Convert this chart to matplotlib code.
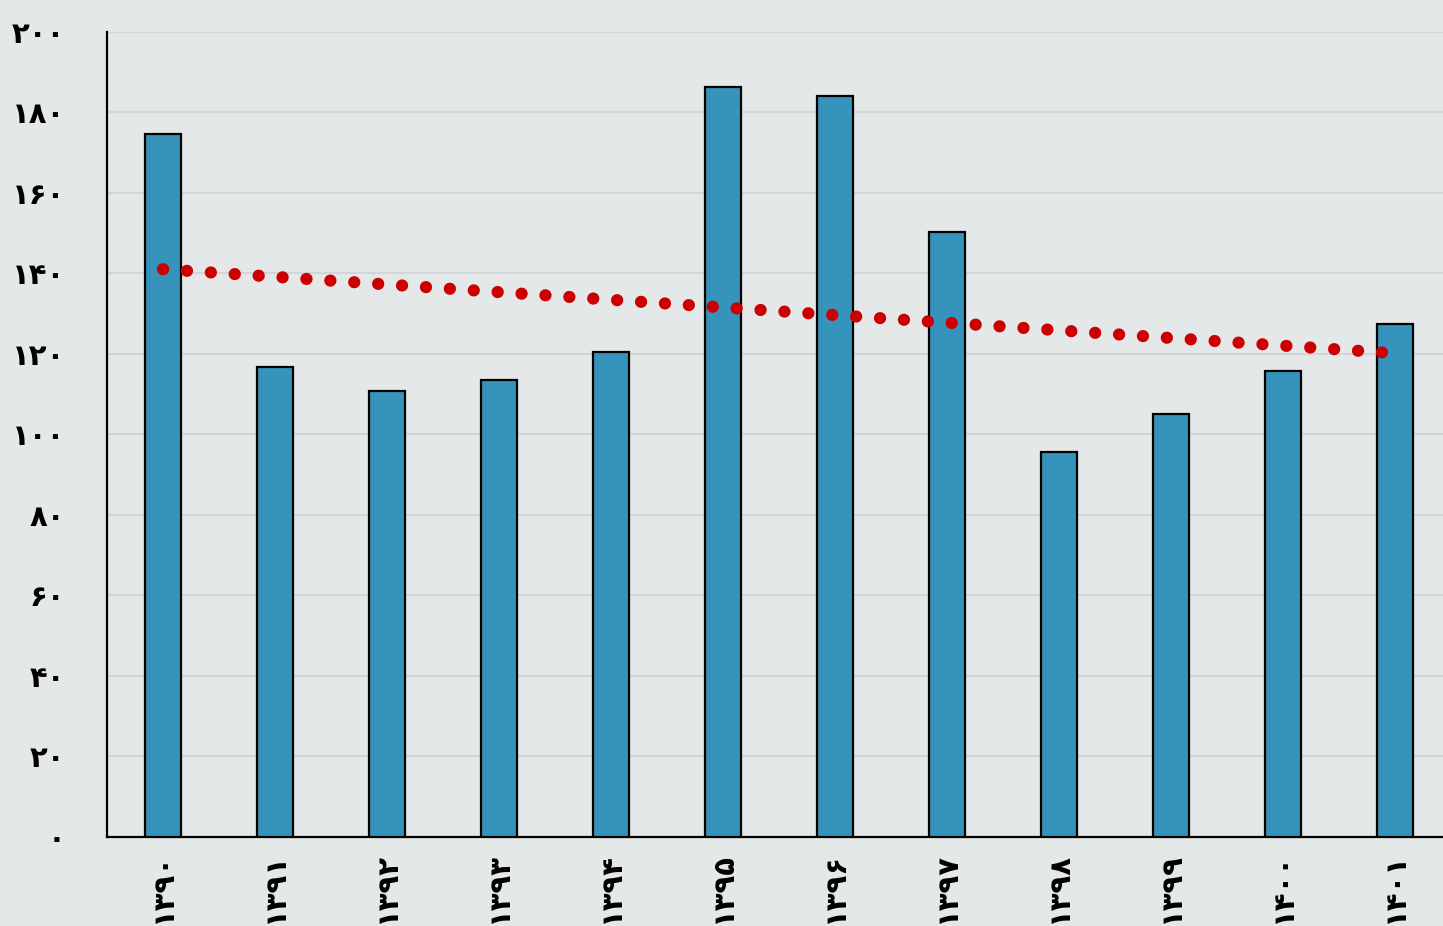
import matplotlib
matplotlib.use("Agg")
import matplotlib.pyplot as plt
import numpy as np

# years (Persian calendar) and values
years = ["۱۳۹۰", "۱۳۹۱", "۱۳۹۲", "۱۳۹۳", "۱۳۹۴", "۱۳۹۵",
         "۱۳۹۶", "۱۳۹۷", "۱۳۹۸", "۱۳۹۹", "۱۴۰۰", "۱۴۰۱"]
values = [174.6, 116.7, 110.7, 113.5, 120.4, 186.3,
          184.0, 150.2, 95.6, 105.0, 115.7, 127.4]
trend_start = 141.0
trend_end = 120.1

y_ticks = [0, 20, 40, 60, 80, 100, 120, 140, 160, 180, 200]
y_labels = ["۰", "۲۰", "۴۰", "۶۰", "۸۰", "۱۰۰", "۱۲۰", "۱۴۰", "۱۶۰", "۱۸۰", "۲۰۰"]

bg = "#e4e8e9"
bar_color = "#3593bc"
red = "#cc0000"

plt.rcParams['font.family'] = ['DejaVu Sans']

fig = plt.figure(figsize=(14.43, 9.26), dpi=100, facecolor=bg)
ax = fig.add_axes([107 / 1443, (926 - 836.7) / 926, (1451 - 107) / 1443, 805 / 926])
ax.set_facecolor(bg)

x = np.arange(len(years))
ax.bar(x, values, width=0.32, color=bar_color, edgecolor="black", linewidth=1.6, zorder=3)

# dotted trend line
ax.plot([x[0], x[-1]], [trend_start, trend_end], color=red, linewidth=8.8,
        linestyle=(0, (0.01, 1.95)), dash_capstyle="round", zorder=4)

ax.set_xlim(-0.5, len(years) - 0.5)
ax.set_ylim(0, 200)
ax.set_yticks(y_ticks)
ax.set_yticklabels(y_labels, fontsize=21, fontweight="bold")
ax.set_xticks(x)
ax.set_xticklabels(years, rotation=90, fontsize=21, fontweight="bold", va="top")
ax.tick_params(axis="y", length=0, pad=30)
ax.tick_params(axis="x", length=0, pad=11)
for lbl in ax.get_yticklabels():
    lbl.set_y(lbl.get_position()[1])

ax.grid(axis="y", color="#d3d6d8", linewidth=1.5, zorder=0)
for side in ["top", "right"]:
    ax.spines[side].set_visible(False)
ax.spines["left"].set_linewidth(1.6)
ax.spines["bottom"].set_linewidth(1.6)

fig.savefig("out.png", dpi=100, facecolor=bg)
